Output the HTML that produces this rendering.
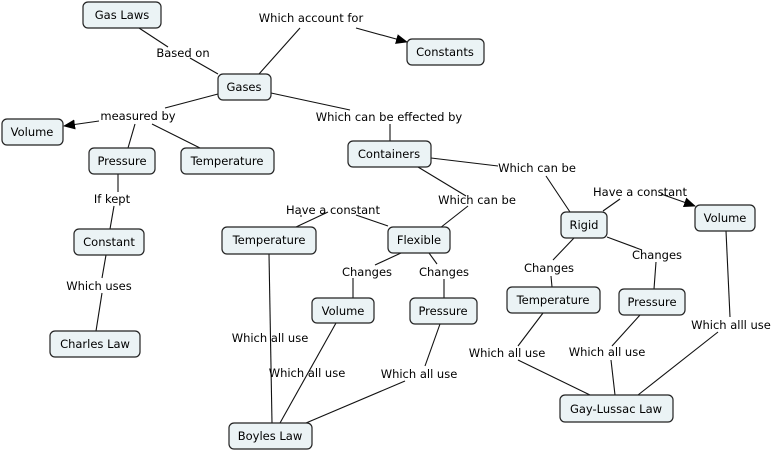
<!DOCTYPE html>
<html><head><meta charset="utf-8"><style>
html,body{margin:0;padding:0;background:#fff;}
svg{display:block;}
text{font-family:"DejaVu Sans","Liberation Sans",sans-serif;font-size:11.5px;fill:#000;}
.n{fill:#ebf3f5;stroke:#222;stroke-width:1.2;}
.l{stroke:#111;stroke-width:1.1;fill:none;}
</style></head><body>
<svg width="775" height="451" viewBox="0 0 775 451" xmlns="http://www.w3.org/2000/svg">
<defs><marker id="a" markerWidth="12" markerHeight="10" refX="11" refY="5" orient="auto" markerUnits="userSpaceOnUse"><path d="M0,0 L12,5 L0,10z" fill="#000"/></marker></defs>
<g class="l">
<path d="M139,28 L168,47"/><path d="M190,58 L218,74"/>
<path d="M259,74 L300,28"/><path d="M356,28 L407,42" marker-end="url(#a)"/>
<path d="M218,94 L165,108"/><path d="M99,121 L64,126" marker-end="url(#a)"/>
<path d="M135,124 L128,148"/><path d="M152,124 L200,148"/>
<path d="M271,93 L350,110"/><path d="M390,124 L390,141"/>
<path d="M431,158 L498,166"/><path d="M546,176 L570,212"/>
<path d="M603,211 L620,199"/><path d="M661,194 L695,206" marker-end="url(#a)"/>
<path d="M418,167 L466,196"/><path d="M468,206 L440,228"/>
<path d="M388,226 L356,215"/><path d="M300,216 L302,216"/><path d="M296,227 L328,212"/>
<path d="M401,253 L375,265"/><path d="M353,278 L353,298"/>
<path d="M429,253 L437,264"/><path d="M444,279 L444,298"/>
<path d="M574,238 L553,260"/><path d="M551,276 L552,287"/>
<path d="M607,237 L642,250"/><path d="M656,262 L654,289"/>
<path d="M118,174 L118,192"/><path d="M114,206 L110,229"/>
<path d="M106,255 L102,278"/><path d="M102,293 L96,331"/>
<path d="M269,254 L272,423"/>
<path d="M336,323 L280,423"/>
<path d="M440,324 L425,366"/><path d="M405,381 L306,423"/>
<path d="M543,313 L518,346"/><path d="M518,360 L590,395"/>
<path d="M640,315 L612,346"/><path d="M611,360 L615,395"/>
<path d="M726,231 L730,317"/><path d="M718,332 L638,395"/>
</g>
<g text-anchor="middle">
<text x="311" y="22">Which account for</text>
<text x="183" y="57">Based on</text>
<text x="138" y="120">measured by</text>
<text x="389" y="121">Which can be effected by</text>
<text x="537" y="172">Which can be</text>
<text x="640" y="196">Have a constant</text>
<text x="477" y="204">Which can be</text>
<text x="333" y="214">Have a constant</text>
<text x="112" y="203">If kept</text>
<text x="367" y="276">Changes</text>
<text x="444" y="276">Changes</text>
<text x="549" y="272">Changes</text>
<text x="657" y="259">Changes</text>
<text x="99" y="290">Which uses</text>
<text x="270" y="342">Which all use</text>
<text x="307" y="377">Which all use</text>
<text x="419" y="378">Which all use</text>
<text x="507" y="357">Which all use</text>
<text x="607" y="356">Which all use</text>
<text x="731" y="329">Which alll use</text>
</g>
<g>
<rect class="n" x="83" y="2" width="78" height="26" rx="5"/>
<rect class="n" x="407" y="39" width="77" height="26" rx="5"/>
<rect class="n" x="218" y="74" width="53" height="26" rx="5"/>
<rect class="n" x="2" y="119" width="61" height="26" rx="5"/>
<rect class="n" x="89" y="148" width="66" height="26" rx="5"/>
<rect class="n" x="181" y="148" width="93" height="26" rx="5"/>
<rect class="n" x="348" y="141" width="83" height="26" rx="5"/>
<rect class="n" x="561" y="212" width="46" height="26" rx="5"/>
<rect class="n" x="695" y="205" width="60" height="26" rx="5"/>
<rect class="n" x="222" y="227" width="94" height="27" rx="5"/>
<rect class="n" x="388" y="227" width="62" height="26" rx="5"/>
<rect class="n" x="74" y="229" width="70" height="26" rx="5"/>
<rect class="n" x="312" y="298" width="62" height="25" rx="5"/>
<rect class="n" x="410" y="298" width="67" height="26" rx="5"/>
<rect class="n" x="507" y="287" width="93" height="26" rx="5"/>
<rect class="n" x="619" y="289" width="66" height="26" rx="5"/>
<rect class="n" x="50" y="331" width="90" height="26" rx="5"/>
<rect class="n" x="229" y="423" width="83" height="26" rx="5"/>
<rect class="n" x="560" y="395" width="113" height="27" rx="5"/>
</g>
<g text-anchor="middle">
<text x="122" y="19">Gas Laws</text>
<text x="445" y="56">Constants</text>
<text x="244" y="91">Gases</text>
<text x="32" y="136">Volume</text>
<text x="122" y="165">Pressure</text>
<text x="227" y="165">Temperature</text>
<text x="389" y="158">Containers</text>
<text x="584" y="229">Rigid</text>
<text x="725" y="222">Volume</text>
<text x="269" y="244">Temperature</text>
<text x="419" y="244">Flexible</text>
<text x="109" y="246">Constant</text>
<text x="343" y="315">Volume</text>
<text x="443" y="315">Pressure</text>
<text x="553" y="304">Temperature</text>
<text x="652" y="306">Pressure</text>
<text x="95" y="348">Charles Law</text>
<text x="270" y="440">Boyles Law</text>
<text x="616" y="413">Gay-Lussac Law</text>
</g>
</svg>
</body></html>
